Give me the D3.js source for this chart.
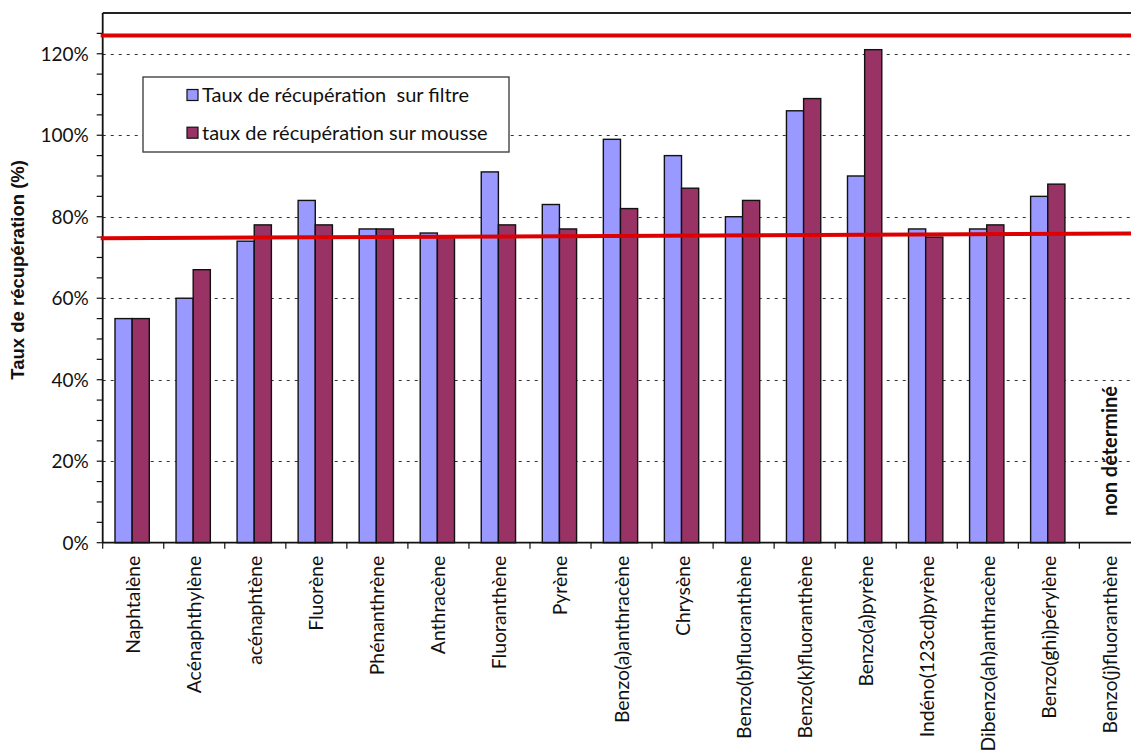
<!DOCTYPE html>
<html>
<head>
<meta charset="utf-8">
<script src="https://cdn.jsdelivr.net/npm/d3@7"></script>
<style>
  html, body { margin: 0; padding: 0; background: #fff; }
  svg { display: block; }
</style>
</head>
<body>
<div id="chart"></div>
<script>
// Recovery rates of PAH compounds: filter vs. foam
const categories = [
  "Naphtalène", "Acénaphthylène", "acénaphtène", "Fluorène", "Phénanthrène",
  "Anthracène", "Fluoranthène", "Pyrène", "Benzo(a)anthracène", "Chrysène",
  "Benzo(b)fluoranthène", "Benzo(k)fluoranthène", "Benzo(a)pyrène",
  "Indéno(123cd)pyrène", "Dibenzo(ah)anthracène", "Benzo(ghi)pérylène",
  "Benzo(j)fluoranthène"
];
const seriesNames = ["Taux de récupération  sur filtre", "taux de récupération sur mousse"];
const filtre = [55, 60, 74, 84, 77, 76, 91, 83, 99, 95, 80, 106, 90, 77, 77, 85, null];
const mousse = [55, 67, 78, 78, 77, 75, 78, 77, 82, 87, 84, 109, 121, 75, 78, 88, null];
const yTicks = [0, 20, 40, 60, 80, 100, 120];
const yMinorTicks = [0, 5, 10, 15, 20, 25, 30, 35, 40, 45, 50, 55, 60, 65, 70, 75, 80, 85, 90, 95, 100, 105, 110, 115, 120, 125];
// Reference lines drawn in red (percent at the left and right ends of the plot)
const upperLine = [124.5, 124.5];
const lowerLine = [74.7, 75.9];
const noteText = "non déterminé";
const yTitle = "Taux de récupération (%)";

(function () {
const W = 1131, H = 751;
const mLeft = 102.7, mRight = 1140.4, mTop = 13, mBottom = 542.7;
const colors = ["#9999FF", "#993366"];
const labelFont = "Lato, 'Open Sans', sans-serif";

const svg = d3.select("#chart").append("svg")
  .attr("width", W).attr("height", H)
  .attr("viewBox", `0 0 ${W} ${H}`);

const x0 = d3.scaleBand().domain(categories).range([mLeft, mRight]).padding(0);
const x1 = d3.scaleBand().domain([0, 1]).range([12.3, 46.6]).padding(0);
const y = d3.scaleLinear().domain([0, 130]).range([mBottom, mTop]);

// Dotted major grid
svg.append("g").selectAll("line").data(yTicks.filter(v => v > 0)).join("line")
  .attr("x1", mLeft).attr("x2", W)
  .attr("y1", d => Math.round(y(d)) + 0.5).attr("y2", d => Math.round(y(d)) + 0.5)
  .attr("stroke", "#333").attr("stroke-width", 1.2)
  .attr("stroke-dasharray", "3,5");

// Bars
const groups = svg.append("g").selectAll("g").data(categories).join("g")
  .attr("transform", d => `translate(${x0(d)},0)`);
groups.selectAll("rect")
  .data((d, i) => [filtre[i], mousse[i]].map((v, s) => ({ v, s })).filter(o => o.v != null))
  .join("rect")
  .attr("x", d => x1(d.s))
  .attr("width", x1.bandwidth())
  .attr("y", d => y(d.v))
  .attr("height", d => y(0) - y(d.v))
  .attr("fill", d => colors[d.s])
  .attr("stroke", "#111").attr("stroke-width", 1.4);

// Frame top line
svg.append("line")
  .attr("x1", mLeft).attr("x2", W).attr("y1", mTop).attr("y2", mTop)
  .attr("stroke", "#222").attr("stroke-width", 1.8);

// Y axis
const yAxis = svg.append("g").attr("transform", `translate(${mLeft},0)`);
yAxis.append("line").attr("x1", 0).attr("x2", 0).attr("y1", mTop).attr("y2", mBottom)
  .attr("stroke", "#111").attr("stroke-width", 1.8);
yAxis.selectAll(".minor").data(yMinorTicks).join("line")
  .attr("x1", -6).attr("x2", 0)
  .attr("y1", d => y(d)).attr("y2", d => y(d))
  .attr("stroke", "#111").attr("stroke-width", 1.2);
yAxis.selectAll("text").data(yTicks).join("text")
  .attr("x", -14).attr("y", d => y(d)).attr("dy", "0.36em")
  .attr("text-anchor", "end")
  .attr("font-family", labelFont).attr("font-size", 19)
  .attr("fill", "#111")
  .text(d => d + "%");

// X axis
const xAxis = svg.append("g");
xAxis.append("line").attr("x1", mLeft).attr("x2", W).attr("y1", mBottom).attr("y2", mBottom)
  .attr("stroke", "#111").attr("stroke-width", 1.8);
xAxis.selectAll(".tick").data(categories.map((c, i) => i).concat([categories.length])).join("line")
  .attr("x1", i => mLeft + i * x0.step()).attr("x2", i => mLeft + i * x0.step())
  .attr("y1", mBottom).attr("y2", mBottom + 6)
  .attr("stroke", "#111").attr("stroke-width", 1.2);
xAxis.selectAll("text").data(categories).join("text")
  .attr("transform", d => `translate(${x0(d) + x0.bandwidth() / 2},${mBottom + 13}) rotate(-90)`)
  .attr("dy", "0.36em")
  .attr("text-anchor", "end")
  .attr("font-family", labelFont).attr("font-size", 19.4)
  .attr("fill", "#111")
  .text(d => d);

// Red reference lines
const xEnds = [mLeft - 2, W];
[upperLine, lowerLine].forEach(vals => {
  svg.append("line")
    .attr("x1", xEnds[0]).attr("x2", xEnds[1])
    .attr("y1", y(vals[0])).attr("y2", y(vals[1]))
    .attr("stroke", "#DD0000").attr("stroke-width", 4);
});

// Legend
const lg = svg.append("g");
lg.append("rect").attr("x", 143).attr("y", 77).attr("width", 366).attr("height", 75)
  .attr("fill", "#fff").attr("stroke", "#444").attr("stroke-width", 1.4);
seriesNames.forEach((name, i) => {
  const cy = 95 + i * 37.7;
  lg.append("rect").attr("x", 187).attr("y", cy - 5.5).attr("width", 11).attr("height", 11)
    .attr("fill", colors[i]).attr("stroke", "#111").attr("stroke-width", 1.2);
  lg.append("text").attr("x", 202).attr("y", cy).attr("dy", "0.36em")
    .attr("font-family", labelFont).attr("font-size", 20).attr("fill", "#111")
    .style("white-space", "pre")
    .text(name);
});

// Axis title
svg.append("text")
  .attr("transform", `translate(18,${(mTop + mBottom) / 2 - 8}) rotate(-90)`)
  .attr("text-anchor", "middle").attr("dy", "0.35em")
  .attr("font-family", "'Liberation Sans', Arial, sans-serif").attr("font-weight", "bold")
  .attr("font-size", 18.5).attr("fill", "#111")
  .text(yTitle);

// Note for the last compound
const lastX = x0(categories[categories.length - 1]) + x0.bandwidth() / 2;
svg.append("text")
  .attr("transform", `translate(${lastX},${y(22.5)}) rotate(-90)`)
  .attr("text-anchor", "middle").attr("dy", "0.35em")
  .attr("font-family", labelFont).attr("font-weight", "bold")
  .attr("font-size", 20).attr("fill", "#111")
  .text(noteText);
})();
</script>
</body>
</html>
